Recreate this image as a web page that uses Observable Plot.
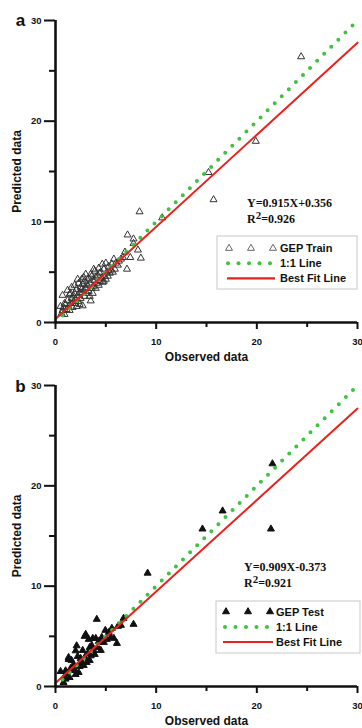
<!DOCTYPE html>
<html><head><meta charset="utf-8">
<script src="https://cdn.jsdelivr.net/npm/d3@7"></script>
<script src="https://cdn.jsdelivr.net/npm/@observablehq/plot@0.6"></script>
<style>body{margin:0;background:#fff;} #chart{width:362px;} svg{display:block;}</style>
</head><body><div id="chart"></div>
<script>
// ---- data ----
const trainObs = [24.4,19.9,15.2,15.7,10.6,8.35,7.16,7.75,7.75,8.19,7.43,8.48,7.1,6.7,6.9,6.3,6.0,5.8,5.5,5.6,5.3,5.1,5.0,4.9,4.8,4.65,4.6,4.5,4.4,4.3,4.2,4.1,4.0,3.9,3.8,3.8,3.7,3.6,3.5,3.5,3.4,3.3,3.3,3.2,3.1,3.0,3.0,2.9,2.9,2.8,2.7,2.7,2.6,2.6,2.5,2.5,2.4,2.3,2.2,2.2,2.1,2.0,2.0,1.9,1.8,1.8,1.7,1.6,1.6,1.5,1.4,1.3,1.2,1.1,1.0,0.9,0.8,0.7,0.7,0.5,0.6,1.2,1.5,2.3,2.8,3.6,4.4,5.2,5.9,6.2,4.0,3.4,2.4,4.7,5.4,3.9,2.6,1.9,4.3,5.0,3.1,3.7,1.4,0.9,2.1,6.5,5.7,4.8];
const trainPred = [26.4,18.0,14.9,12.2,10.4,11.0,8.7,8.3,7.85,7.2,6.46,6.4,5.3,6.46,7.0,6.1,5.9,6.3,5.2,5.8,5.6,5.0,5.9,4.6,5.3,5.8,4.4,5.0,4.1,5.4,4.7,3.9,4.5,5.1,5.3,3.6,4.2,3.4,4.8,2.15,3.9,3.1,4.4,3.7,2.9,4.8,3.4,4.1,2.6,3.2,3.8,1.66,2.9,4.3,2.4,3.5,3.0,2.1,4.3,2.7,3.3,2.3,1.9,3.7,2.65,2.1,1.5,3.5,2.4,1.9,2.8,1.6,2.2,1.3,1.8,0.8,1.5,2.7,1.2,1.6,0.9,3.2,2.9,3.9,4.5,4.6,4.9,4.6,5.3,5.7,3.4,2.6,1.8,4.0,4.9,4.2,3.3,2.9,3.7,4.3,3.8,2.9,1.2,1.9,1.6,6.3,5.0,4.1];
const testObs = [21.55,16.6,14.6,21.4,9.15,4.1,7.75,6.1,5.8,6.76,6.5,6.2,4.95,5.3,5.6,4.6,4.4,4.0,3.0,3.3,3.6,3.8,3.5,3.1,3.2,2.9,2.7,2.6,2.3,2.4,2.5,2.1,2.0,2.2,1.8,1.6,1.3,1.3,1.1,1.0,0.8,0.5,1.0,1.5,1.9,2.8,3.4,3.9,4.2,4.8,5.1,4.3,3.7,2.9,1.4,2.0,3.4,5.5,4.5,0.9];
const testPred = [22.2,17.5,15.7,15.7,11.3,6.7,6.2,4.3,4.8,6.8,6.1,6.0,5.6,5.4,5.8,4.9,4.4,4.8,5.2,4.7,4.1,3.6,3.06,2.4,3.3,2.9,3.6,2.4,1.4,2.0,2.8,4.06,3.56,3.0,2.2,2.6,2.9,2.7,1.3,0.74,0.4,1.5,1.57,1.8,1.6,2.1,2.6,3.2,3.9,4.4,4.7,4.5,4.8,5.0,0.9,1.2,3.9,4.9,3.6,1.0];
const majorTicks = [0, 10, 20, 30];
const minorTicks = [5, 15, 25];
const oneToOneX = [0, 30];
const oneToOneY = [0, 30];
const fitX = [0, 30];
const fitYTrain = [0.356, 27.8];
const fitYTest = [0.35, 27.7];
const panelLetters = ["a", "b"];
const equations = ["Y=0.915X+0.356", "Y=0.909X-0.373"];
const r2Values = ["0.926", "0.921"];
const legendLabels = [["GEP Train", "1:1 Line", "Best Fit Line"], ["GEP Test", "1:1 Line", "Best Fit Line"]];
const xTitle = "Observed data";
const yTitle = "Predicted data";

const GREEN = "#3dc43d", RED = "#e8221c", INK = "#111";
const SANS = "'Liberation Sans', Arial, Helvetica, sans-serif";
const SERIF = "'Liberation Serif', 'Times New Roman', serif";

function overlay(cfg) {
  return (index, scales, values, dims) => {
    const L = cfg.marginLeft, T = cfg.marginTop;
    const g = d3.create("svg:g").attr("text-anchor", "start");
    // equation
    g.append("text").attr("x", L + cfg.ex).attr("y", T + cfg.ey1).attr("text-anchor", "start")
      .attr("font-family", SERIF).attr("font-weight", "bold").attr("font-size", 12).attr("fill", INK)
      .text(cfg.eq);
    const t2 = g.append("text").attr("x", L + cfg.ex).attr("y", T + cfg.ey2).attr("text-anchor", "start")
      .attr("font-family", SERIF).attr("font-weight", "bold").attr("font-size", 12).attr("fill", INK);
    t2.append("tspan").text("R");
    t2.append("tspan").attr("dy", -4).attr("font-size", 11).text("2");
    t2.append("tspan").attr("dy", 4).text("=" + cfg.r2);
    // legend
    const bx = L + cfg.bx, by = T + cfg.by;
    g.append("rect").attr("x", bx).attr("y", by).attr("width", cfg.bw).attr("height", cfg.bh)
      .attr("fill", "white").attr("stroke", "#c8c8c8").attr("stroke-width", 1);
    const tri = d3.symbol(d3.symbolTriangle, Math.PI * cfg.r * cfg.r)();
    for (const tx of cfg.triX) {
      g.append("path").attr("d", tri).attr("transform", `translate(${bx + tx},${by + cfg.rows[0]})`)
        .attr("fill", cfg.filled ? INK : "none").attr("stroke", cfg.filled ? INK : "#666").attr("stroke-width", 1);
    }
    for (let i = 0; i < 5; i++) {
      g.append("circle").attr("cx", bx + cfg.dotX0 + i * 10.5).attr("cy", by + cfg.rows[1]).attr("r", 2).attr("fill", GREEN);
    }
    g.append("line").attr("x1", bx + cfg.lineX[0]).attr("x2", bx + cfg.lineX[1])
      .attr("y1", by + cfg.rows[2]).attr("y2", by + cfg.rows[2]).attr("stroke", RED).attr("stroke-width", 2.2);
    cfg.labels.forEach((lab, i) => {
      g.append("text").attr("x", bx + cfg.textX).attr("y", by + cfg.rows[i] + 4).attr("text-anchor", "start")
        .attr("font-family", SANS).attr("font-weight", "bold").attr("font-size", 11).attr("fill", INK).text(lab);
    });
    return g.node();
  };
}

function panel(k, cfg) {
  const obs = k === 0 ? trainObs : testObs;
  const pred = k === 0 ? trainPred : testPred;
  const pts = obs.map((x, i) => ({x, y: pred[i]}));
  const one = oneToOneX.map((x, i) => ({x, y: oneToOneY[i]}));
  const fitY = k === 0 ? fitYTrain : fitYTest;
  const fit = fitX.map((x, i) => ({x, y: fitY[i]}));
  const filled = k === 1;
  return Plot.plot({
    width: 362, height: 364,
    marginLeft: cfg.marginLeft, marginRight: 5, marginTop: cfg.marginTop, marginBottom: 42,
    x: {domain: [0, 30]}, y: {domain: [0, 30]},
    style: {fontFamily: SANS, fontWeight: "bold", color: INK, background: "white"},
    marks: [
      Plot.dot(pts, {x: "x", y: "y", symbol: "triangle", r: 2.6,
        fill: filled ? INK : "none", stroke: filled ? INK : "#333", strokeWidth: 1}),
      Plot.line(one, {x: "x", y: "y", stroke: GREEN, strokeWidth: 4, strokeDasharray: "0 10", strokeLinecap: "round"}),
      Plot.line(fit, {x: "x", y: "y", stroke: RED, strokeWidth: 2}),
      Plot.ruleX([0], {y1: 0, y2: 30, stroke: INK, strokeWidth: 2.6}),
      Plot.ruleY([0], {x1: 0, x2: 30, stroke: INK, strokeWidth: 2.6}),
      Plot.axisY({ticks: majorTicks, tickSize: 11, tickPadding: 3, strokeWidth: 2, label: null, fontSize: 9.5, fontWeight: "bold"}),
      Plot.axisY({ticks: minorTicks, tickSize: 6, strokeWidth: 2, label: null, tickFormat: () => ""}),
      Plot.axisX({ticks: majorTicks, tickSize: 7, tickPadding: 9, strokeWidth: 2, label: null, fontSize: 9.5, fontWeight: "bold"}),
      Plot.axisX({ticks: minorTicks, tickSize: 5, strokeWidth: 2, label: null, tickFormat: () => ""}),
      Plot.text([panelLetters[k]], {text: d => d, frameAnchor: "top-left", dx: -35, dy: cfg.letterDy,
        fontSize: 17, fontWeight: "bold", textAnchor: "middle", lineAnchor: "middle", fill: INK}),
      Plot.text([yTitle], {text: d => d, frameAnchor: "left", dx: -38, rotate: -90,
        fontSize: 12, fontWeight: "bold", textAnchor: "middle", lineAnchor: "middle", fill: INK}),
      Plot.text([xTitle], {text: d => d, frameAnchor: "bottom", dy: 35,
        fontSize: 12, fontWeight: "bold", textAnchor: "middle", lineAnchor: "middle", fill: INK}),
      overlay({...cfg, eq: equations[k], r2: r2Values[k], labels: legendLabels[k], filled, r: 2.6})
    ]
  });
}

const chart = document.getElementById("chart");
chart.append(panel(0, {marginLeft: 55, marginTop: 20, letterDy: 0,
  ex: 192, ey1: 187, ey2: 203,
  bx: 162, by: 216, bw: 140, bh: 53, rows: [12.3, 27.3, 42.3], triX: [12, 34, 56], textX: 63, dotX0: 11, lineX: [10, 58]}));
chart.append(panel(1, {marginLeft: 55, marginTop: 21, letterDy: 1,
  ex: 189, ey1: 186, ey2: 202,
  bx: 161, by: 216, bw: 144, bh: 52, rows: [10.7, 26, 41], triX: [10, 32, 54], textX: 60, dotX0: 9, lineX: [7, 57]}));
</script>
</body></html>
